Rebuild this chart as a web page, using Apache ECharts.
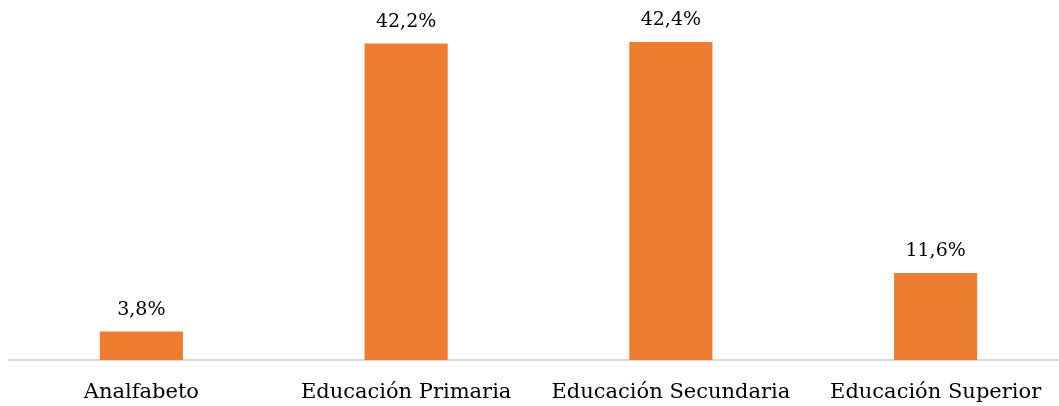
<!DOCTYPE html>
<html>
<head>
<meta charset="utf-8">
<script src="https://cdn.jsdelivr.net/npm/echarts@6/dist/echarts.min.js"></script>
<style>
  html, body { margin: 0; padding: 0; background: #ffffff; }
  #chart { width: 1059px; height: 406px; }
</style>
</head>
<body>
<div id="chart"></div>
<script>
// Nivel educativo: porcentaje por categoría
const categories = ['Analfabeto', 'Educación Primaria', 'Educación Secundaria', 'Educación Superior'];
const values = [3.8, 42.2, 42.4, 11.6];

const serif = '"DejaVu Serif", "Liberation Serif", serif';

const chart = echarts.init(document.getElementById('chart'), null, { renderer: 'canvas' });
chart.setOption({
  animation: false,
  backgroundColor: '#ffffff',
  grid: {
    left: 9, width: 1059, top: 22.5, height: 337.5,
    containLabel: false, outerBoundsMode: 'none'
  },
  xAxis: {
    type: 'category',
    data: categories,
    axisLine: { show: true, lineStyle: { color: '#d9d9d9', width: 2 } },
    axisTick: { show: false },
    axisLabel: { interval: 0, color: '#000000', fontFamily: serif, fontSize: 21, margin: 22 }
  },
  yAxis: {
    type: 'value',
    min: 0,
    max: 45,
    show: false,
    splitLine: { show: false }
  },
  series: [{
    type: 'bar',
    data: values,
    barWidth: '31.4%',
    itemStyle: { color: '#ed7d31' },
    label: {
      show: true,
      position: 'top',
      distance: 12,
      color: '#000000',
      fontFamily: serif,
      fontSize: 19,
      formatter: p => p.value.toFixed(1).replace('.', ',') + '%'
    }
  }]
});
</script>
</body>
</html>
